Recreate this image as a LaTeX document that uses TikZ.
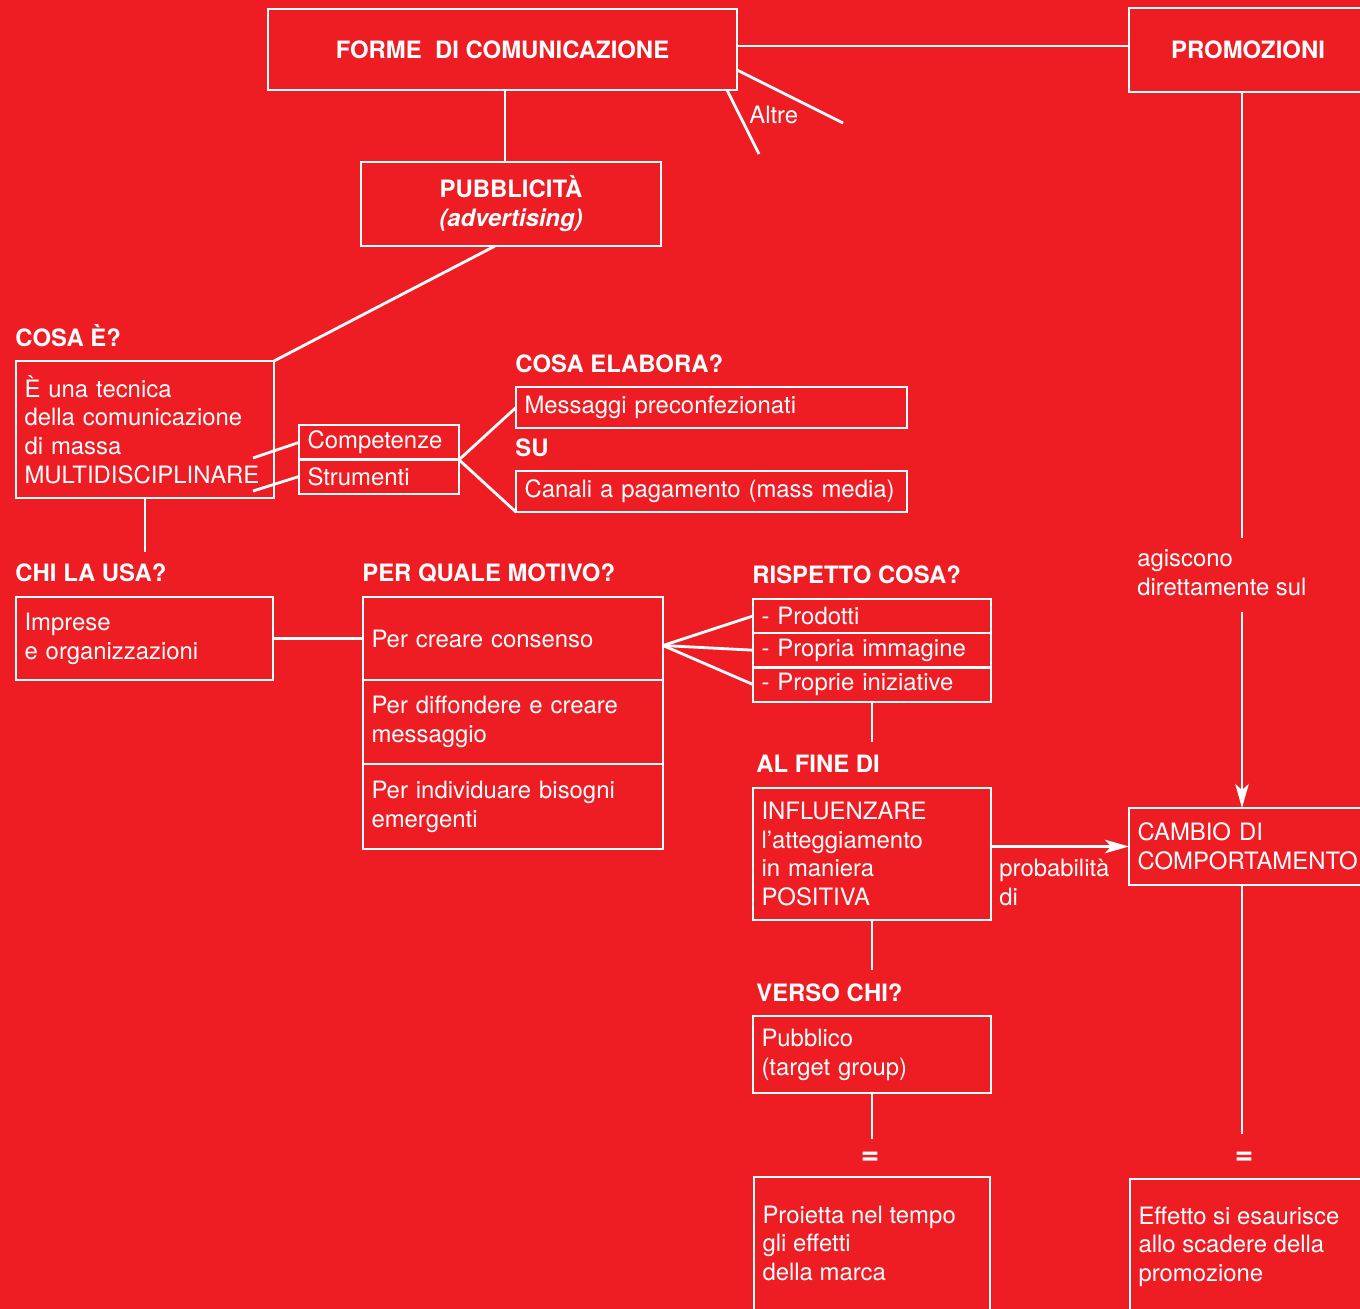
\documentclass[tikz,border=0pt]{standalone}
\usepackage{fontspec}
\setmainfont{TeX Gyre Heros}
\usetikzlibrary{arrows.meta,calc}

\definecolor{bgred}{RGB}{238,29,36}
\newcommand\pu{0.02cm}
\newcommand\basefont{\fontsize{13.6}{16.4}\selectfont}
\newcommand\headfont{\fontsize{13.6}{16.4}\selectfont\bfseries}

\tikzset{
  box/.style={draw=white, line width=1.6pt, text=white, inner xsep=0.17cm, outer sep=0pt},
  lbox/.style 2 args={box, anchor=north west, minimum width=#1*\pu,
    minimum height=#2*\pu, text width=(#1-17)*\pu, align=left},
  head/.style={font=\headfont, text=white, inner sep=0pt, anchor=base west},
  eq/.style={font=\fontsize{18}{20}\selectfont\bfseries, text=white, inner sep=0pt},
  plain/.style={text=white, inner sep=0pt},
  wire/.style={draw=white, line width=1.6pt},
  arr/.style={-{Stealth[length=0.48cm, width=0.27cm, inset=0.12cm]}}
}

\begin{document}
\begin{tikzpicture}[x=0.02cm, y=-0.02cm, font=\basefont]
  \useasboundingbox (0,0) rectangle (1360,1309);
  \fill[bgred] (0,0) rectangle (1360,1309);
  \clip (0,0) rectangle (1360,1309);

  % top row
  \node[box, anchor=north west, minimum width=469*\pu, minimum height=81*\pu,
    font=\headfont] (forme) at (268,9) {FORME\ \ DI COMUNICAZIONE};
  \node[box, anchor=north west, minimum width=238*\pu, minimum height=84*\pu,
    font=\headfont] (promo) at (1129,8) {PROMOZIONI};
  \node[box, anchor=north west, minimum width=300*\pu, minimum height=84*\pu,
    font=\headfont, align=center] (pubb) at (361,162) {PUBBLICITÀ\\\textit{(advertising)}};

  % what it is
  \node[head] (qcosa) at (15,346) {COSA È?};
  \node[lbox={258}{137}] (cosa) at (16,361)
    {È una tecnica\\della comunicazione\\di massa\\MULTIDISCIPLINARE};
  \node[lbox={160}{34}] (comp) at (299,425) {Competenze};
  \node[lbox={160}{35}] (strum) at (299,459) {Strumenti};
  \node[head] (qelab) at (515,372) {COSA ELABORA?};
  \node[lbox={391}{41}] (mess) at (516,387) {Messaggi preconfezionati};
  \node[head] (qsu) at (515,456) {SU};
  \node[lbox={391}{41}] (canali) at (516,471) {Canali a pagamento (mass media)};

  % who and why
  \node[head] (qchi) at (15,581) {CHI LA USA?};
  \node[lbox={257}{83}] (imp) at (16,597) {Imprese\\e organizzazioni};
  \node[head] (qmot) at (362,581) {PER QUALE MOTIVO?};
  \node[lbox={300}{83}] (m1) at (363,597) {Per creare consenso};
  \node[lbox={300}{84}] (m2) at (363,680) {Per diffondere e creare\\messaggio};
  \node[lbox={300}{85}] (m3) at (363,764) {Per individuare bisogni\\emergenti};

  % middle column
  \node[head] (qrisp) at (752,583) {RISPETTO COSA?};
  \node[lbox={238}{34}] (r1) at (753,599) {- Prodotti};
  \node[lbox={238}{34}] (r2) at (753,633) {- Propria immagine};
  \node[lbox={238}{35}] (r3) at (753,667) {- Proprie iniziative};
  \node[head] (qfine) at (756,772) {AL FINE DI};
  \node[lbox={238}{132}] (infl) at (753,788)
    {INFLUENZARE\\l’atteggiamento\\in maniera\\POSITIVA};
  \node[head] (qverso) at (756,1001) {VERSO CHI?};
  \node[lbox={238}{77}] (pubblico) at (753,1016) {Pubblico\\(target group)};
  \node[box, anchor=north west, inner ysep=0.52cm] (proietta) at (754,1177)
    {\parbox[t][4cm][t]{4.38cm}{\strut Proietta nel tempo\\gli effetti\\della marca}};

  % right column
  \node[lbox={260}{77}] (cambio) at (1129,808) {CAMBIO DI\\COMPORTAMENTO};
  \node[plain, anchor=north west, inner ysep=0.16cm, align=left] (agis) at (1137,538)
    {\strut agiscono\\direttamente sul\strut};
  \node[box, anchor=north west, inner ysep=0.5cm] (effetto) at (1130,1179)
    {\parbox[t][4cm][t]{4.86cm}{\strut Effetto si esaurisce\\allo scadere della\\promozione}};

  % connectors
  \draw[wire] ([yshift=0.08cm]promo.west) -- ([yshift=0.08cm]promo.west -| forme.east);
  \coordinate (altreA) at (843,123);
  \coordinate (altreB) at (759,154);
  \draw[wire] ([yshift=0.4cm]forme.south east) -- (altreA);
  \draw[wire] ([xshift=-0.2cm]forme.south east) -- (altreB);
  \node[plain, anchor=base west] (altre) at (749,123) {Altre};
  \draw[wire] ([xshift=0.05cm]forme.south) -- ([xshift=0.05cm]forme.south |- pubb.north);
  \draw[wire] ([xshift=-0.32cm]pubb.south) -- (cosa.north east);

  \coordinate (cA) at (253,458);
  \coordinate (cB) at (253,491);
  \draw[wire] (cA) -- (comp.west);
  \draw[wire] (cB) -- (strum.west);
  \draw[wire] (comp.south east) -- (mess.west);
  \draw[wire] (comp.south east) -- (canali.south west);
  \draw[wire] (cosa.south) -- ++(0,54);

  \draw[wire] (imp.east) -- (m1.west);
  \coordinate (mA) at ([yshift=-0.14cm]m1.east);
  \foreach \r in {r1,r2,r3}
    \draw[wire] (mA) -- (\r.west);
  \draw[wire] (r3.south) -- ++(0,40);

  \draw[wire, arr] (infl.east |- cambio.west) -- (cambio.west);
  \node[plain, anchor=north west, align=left] (prob) at (999,856) {\strut probabilità\\di};
  \draw[wire] (infl.south) -- ++(0,50);
  \draw[wire] (pubblico.south) -- ++(0,46);
  \node[eq] (eqA) at (870,1158) {=};

  \draw[wire] ([xshift=-0.12cm]promo.south) coordinate (pd) -- (pd |- agis.north);
  \draw[wire, arr] (pd |- agis.south) -- (pd |- cambio.north);
  \draw[wire] (pd |- cambio.south) -- ++(0,249);
  \node[eq] (eqB) at (1244,1158) {=};
\end{tikzpicture}
\end{document}
